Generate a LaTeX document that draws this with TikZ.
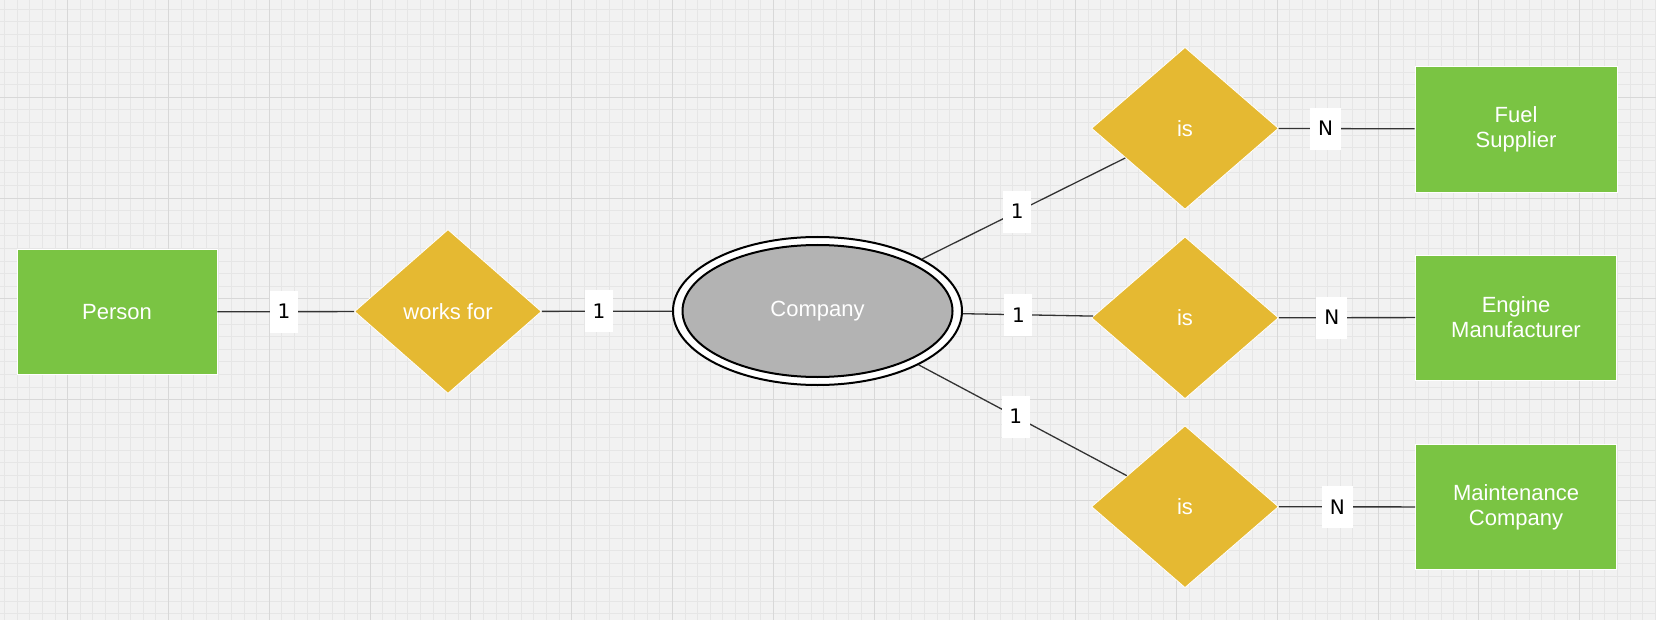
\documentclass[tikz,border=0pt]{standalone}
\usepackage{fontspec}
\newfontfamily\entfont{Liberation Sans}
\newfontfamily\cardfont{DejaVu Sans}
\usetikzlibrary{shapes.geometric}
\definecolor{bgc}{HTML}{F2F2F2}
\definecolor{minorc}{HTML}{E6E6E6}
\definecolor{majorc}{HTML}{D8D8D8}
\definecolor{entgreen}{HTML}{7AC443}
\definecolor{relyellow}{HTML}{E5B932}
\definecolor{weakgray}{HTML}{B3B3B3}
\definecolor{linec}{HTML}{333333}
\tikzset{
  entity/.style={rectangle, draw=white, line width=0.8pt, fill=entgreen, text=white,
    minimum width=201pt, minimum height=125pt, inner sep=0pt, align=center,
    font=\entfont\fontsize{22}{25}\selectfont},
  relation/.style={diamond, draw=white, line width=0.8pt, fill=relyellow, text=white,
    minimum width=187pt, minimum height=162pt, inner sep=0pt, align=center,
    font=\entfont\fontsize{22}{25}\selectfont},
  conn/.style={draw=linec, line width=1.3pt},
  card/.style={fill=white, text=black, minimum width=28pt, minimum height=42pt,
    inner sep=0pt, font=\cardfont\fontsize{20}{24}\selectfont},
  gridminor/.style={draw=minorc, line width=1pt},
  gridmajor/.style={draw=majorc, line width=1pt}
}
\begin{document}
\begin{tikzpicture}[x=1pt,y=-1pt]
\useasboundingbox (0,0) rectangle (1656,620);
\fill[bgc] (0,0) rectangle (1656,620);
% grid
\foreach \i in {0,...,131} {\draw[gridminor] ({4.7+12.6*\i},0) -- ({4.7+12.6*\i},620);}
\foreach \j in {0,...,49} {\draw[gridminor] (0,{9.1+12.6*\j}) -- (1656,{9.1+12.6*\j});}
\foreach \i in {0,...,16} {\draw[gridmajor] ({67.7+100.8*\i},0) -- ({67.7+100.8*\i},620);}
\foreach \j in {0,...,5} {\draw[gridmajor] (0,{-3.5+100.8*\j}) -- (1656,{-3.5+100.8*\j});}

% nodes
\node[entity, minimum width=200pt] (person) at (117,311.8) {Person};
\node[relation, minimum height=164pt] (works) at (448,311.5) {works for};
\node[ellipse, draw=black, line width=2pt, fill=white, minimum width=289pt, minimum height=148pt, inner sep=0pt] (company) at (817.5,311) {};
\node[ellipse, draw=black, line width=2pt, fill=weakgray, minimum width=270pt, minimum height=132pt, inner sep=0pt, text=white, font=\entfont\fontsize{22}{25}\selectfont] (companyin) at (817.5,311) {Company};

\node[relation] (is1) at (1185,128.3) {is};
\node[relation] (is2) at (1185,317.8) {is};
\node[relation] (is3) at (1185,506.7) {is};

\node[entity, minimum width=202pt, minimum height=126pt] (fuel) at (1516,129) {Fuel\\Supplier};
\node[entity] (engine) at (1516,317.5) {Engine\\Manufacturer};
\node[entity] (maint) at (1516,507) {Maintenance\\Company};

% connectors
\draw[conn] (person) -- node[card, pos=0.487] (c1) {1} (works);
\draw[conn] (works) -- node[card, pos=0.44] (c2) {1} (company);
\draw[conn] (company) -- node[card, pos=0.468] (c3) {1} (is1);
\draw[conn] (company) -- node[card, pos=0.426] (c4) {1} (is2);
\draw[conn] (company) -- node[card, pos=0.466] (c5) {1} (is3);
\draw[conn] (is1) -- node[card, minimum width=31pt, pos=0.345] (n1) {N} (fuel);
\draw[conn] (is2) -- node[card, minimum width=31pt, pos=0.39] (n2) {N} (engine);
\draw[conn] (is3) -- node[card, minimum width=31pt, pos=0.43] (n3) {N} (maint);
\end{tikzpicture}
\end{document}
